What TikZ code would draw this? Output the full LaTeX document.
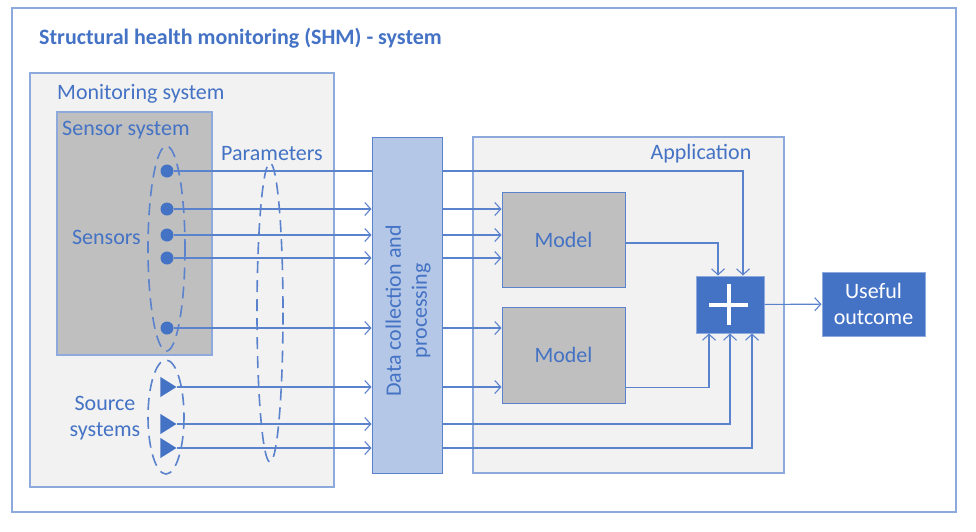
\documentclass[tikz,border=0pt]{standalone}
\usepackage{fontspec}
\setmainfont{Carlito}
\usetikzlibrary{arrows.meta, shapes.geometric, calc}
\definecolor{shmblue}{HTML}{4472C4}
\definecolor{shmline}{HTML}{5A82CD}
\definecolor{shmframe}{HTML}{8EA9DB}
\definecolor{shmlight}{HTML}{F2F2F2}
\definecolor{shmgray}{HTML}{BFBFBF}
\definecolor{shmdata}{HTML}{B4C7E7}
\tikzset{
  lbl/.style = {text=shmblue, inner sep=0pt},
  conn/.style = {draw=shmline, line width=1.1pt},
  arr/.style = {conn, -{Straight Barb[length=6pt,width=13pt]}},
  group/.style = {draw=shmline, line width=1.6pt, dash pattern=on 12pt off 7pt},
  sensordot/.style = {circle, fill=shmblue, inner sep=0pt, minimum size=13pt},
  srcmark/.style = {isosceles triangle, isosceles triangle stretches, fill=shmblue,
    inner sep=0pt, minimum height=16pt, minimum width=20pt, anchor=apex},
  model/.style = {draw=shmline, fill=shmgray, line width=1pt,
    minimum width=123pt, minimum height=95pt, text=shmblue},
  bluebox/.style = {fill=shmblue, draw=shmframe, line width=1pt, text=white, align=center}
}

\begin{document}
\begin{tikzpicture}[x=1pt, y=-1pt, font=\fontsize{22}{26}\selectfont]
% 画像の大きさ
\path[use as bounding box, fill=white] (0,0) rectangle (976,531);

% 外枠とタイトル
\draw[shmframe, line width=1.5pt] (12,8) rectangle (956,512);
\node[lbl, anchor=west, font=\fontsize{22}{26}\selectfont\bfseries] (title) at (39,38)
  {Structural health monitoring (SHM) - system};

% 監視システムの枠
\draw[shmframe, fill=shmlight, line width=1.2pt] (30,73) rectangle (334,487);
\node[lbl, anchor=west] (montxt) at (57,94) {Monitoring system};
\draw[shmframe, fill=shmgray, line width=1.2pt] (57,112) rectangle (212,355);
\node[lbl, anchor=west] (senstxt) at (62,130) {Sensor system};

% アプリケーションの枠
\draw[shmframe, fill=shmlight, line width=1.2pt] (473,137) rectangle (784,473);
\node[lbl] (apptxt) at (701,154) {Application};

% センサとソース
\node[sensordot] (se1) at (167,171) {};
\node[sensordot] (se2) at (167,209) {};
\node[sensordot] (se3) at (167,235) {};
\node[sensordot] (se4) at (167,258) {};
\node[sensordot] (se5) at (167,328) {};
\node[srcmark] (src1) at (177,387) {};
\node[srcmark] (src2) at (177,424) {};
\node[srcmark] (src3) at (177,448) {};
\node[lbl, anchor=east] (sentxt) at (141,237) {Sensors};
\node[lbl, align=center] (srctxt) at (105,418) {Source\\systems};
\node[lbl] (partxt) at (272,154) {Parameters};

% 破線のグループ
\draw[group] (166.5,248.5) ellipse (18.5 and 102.5);
\draw[group] (166,417) ellipse (18 and 57);
\draw[group] (270,312.5) ellipse (13 and 149.5);

% 処理のブロック
\node[draw=shmline, fill=shmdata, line width=1pt, minimum width=70pt, minimum height=336pt]
  (dc) at (407,305) {};
\node[lbl, rotate=90, align=center] (dctxt) at (408,311) {Data collection and\\processing};
\node[model] (m1) at (563.5,239.5) {Model};
\node[model, minimum height=96pt] (m2) at (563.5,355) {Model};
\node[bluebox, minimum width=68pt, minimum height=57pt] (plus) at (730,304.5) {};
\draw[white, line width=4pt] (728.5,304.5) +(-19.5,0) -- +(19.5,0) +(0,-20.5) -- +(0,20.5);
\node[bluebox, minimum width=103pt, minimum height=64pt] (out) at (873.5,304) {Useful\\outcome};

% 入力の線
\draw[conn] (se1) -- (dc.west |- se1);
\foreach \s in {se2,se3,se4,se5}
  \draw[arr] (\s) -- (dc.west |- \s);
\foreach \s in {src1,src2,src3}
  \draw[arr] (\s.apex) -- (dc.west |- \s.apex);

% モデルへの線
\foreach \s in {se2,se3,se4}
  \draw[arr] (dc.east |- \s) -- (m1.west |- \s);
\draw[arr] (dc.east |- se5) -- (m2.west |- se5);
\draw[arr] (dc.east |- src1.apex) -- (m2.west |- src1.apex);

% 合成への線
\draw[arr] (dc.east |- se1) -| ($(plus.north)+(13,0)$);
\draw[arr] ($(m1.east)+(0,3.5)$) -| ($(plus.north)+(-12,0)$);
\draw[arr] ($(m2.south east)+(0,-16)$) -| ($(plus.south)+(-21,0)$);
\draw[arr] (dc.east |- src2.apex) -| (plus.south);
\draw[arr] (dc.east |- src3.apex) -| ($(plus.south)+(22,0)$);
\draw[arr] (plus) -- (out);
\end{tikzpicture}
\end{document}
